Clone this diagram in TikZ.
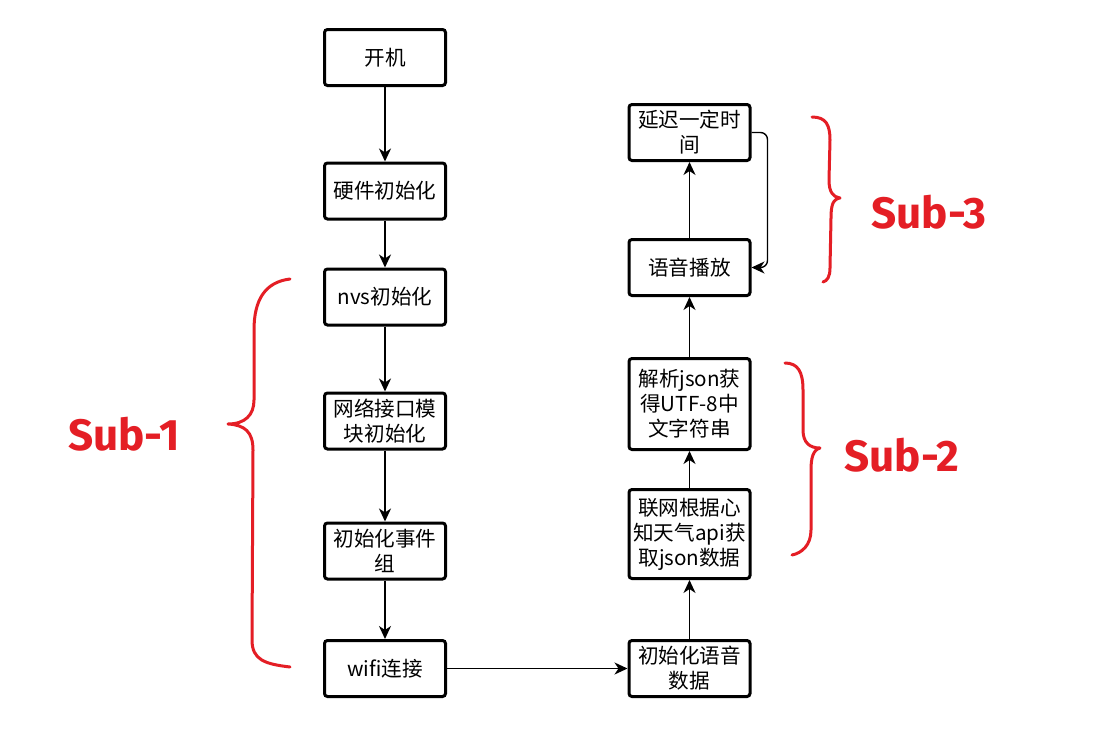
\documentclass[tikz,border=0pt]{standalone}
\usepackage{fontspec}
\setmainfont{Noto Sans CJK SC}
\newfontfamily\subfont{Fira Sans}
\usetikzlibrary{arrows.meta}
\definecolor{subred}{RGB}{228,30,37}
\begin{document}
\begin{tikzpicture}[x=1pt,y=-1pt,
  box/.style={draw, line width=3pt, rounded corners=3pt, minimum width=121pt, minimum height=56pt,
              align=center, font=\fontsize{20.6}{25}\selectfont, inner sep=2pt},
  flow/.style={line width=1.8pt, -{Stealth[length=13pt,width=12pt,inset=4pt]}},
  loopflow/.style={line width=1.4pt, rounded corners=7pt, -{Stealth[length=13pt,width=12pt,inset=4pt]}},
  brace/.style={draw=subred, line width=3pt, line cap=round, line join=round},
  sublabel/.style={text=subred, inner sep=0pt, font=\subfont\bfseries\fontsize{44}{44}\selectfont}]
\useasboundingbox[fill=white] (0,0) rectangle (1111,745);

% left column
\node[box] (kaiji)    at (385,57.5)  {开机};
\node[box] (yingjian) at (385,191)   {硬件初始化};
\node[box] (nvs)      at (385,297)   {nvs初始化};
\node[box] (wangluo)  at (385,421)   {网络接口模\\块初始化};
\node[box] (shijian)  at (385,551)   {初始化事件\\组};
\node[box] (wifi)     at (385,668.5) {wifi连接};

% right column
\node[box] (yuyin)    at (689.5,668.5) {初始化语音\\数据};
\node[box, minimum height=89pt] (lianwang) at (689.5,534) {联网根据心\\知天气api获\\取json数据};
\node[box, minimum height=91pt] (jiexi)    at (689.5,404) {解析json获\\得UTF-8中\\文字符串};
\node[box] (bofang)   at (689.5,267.5) {语音播放};
\node[box] (yanchi)   at (689.5,132.5) {延迟一定时\\间};

% connectors
\draw[flow] (kaiji) -- (yingjian);
\draw[flow] (yingjian) -- (nvs);
\draw[flow] (nvs) -- (wangluo);
\draw[flow] (wangluo) -- (shijian);
\draw[flow] (shijian) -- (wifi);
\draw[flow] (wifi) -- (yuyin);
\draw[flow] (yuyin) -- (lianwang);
\draw[flow] (lianwang) -- (jiexi);
\draw[flow] (jiexi) -- (bofang);
\draw[flow] (bofang) -- (yanchi);
\draw[loopflow] (yanchi.east) -| ([xshift=16pt]bofang.east) -- (bofang.east);

% braces
\draw[brace] (290,279) .. controls (265,282) and (254,300) .. (254,330) -- (254,400)
  .. controls (254,415) and (245,424) .. (228,424)
  .. controls (245,425) and (253,432) .. (253,450) -- (252,640)
  .. controls (252,660) and (265,664) .. (290,667);
\draw[brace] (812,117) .. controls (826,117) and (830,125) .. (830,140) -- (829,180)
  .. controls (829,192) and (833,197) .. (840,198)
  .. controls (833,199) and (831,205) .. (831,218) -- (830,268)
  .. controls (830,277) and (827,281) .. (823,282);
\draw[brace] (785,363) .. controls (798,363) and (803,372) .. (803,390) -- (803,430)
  .. controls (803,443) and (810,448) .. (820,448)
  .. controls (813,450) and (811,458) .. (811,470) -- (811,530)
  .. controls (811,545) and (802,553) .. (792,555);

% labels
\node[sublabel] (sub1) at (124,434) {Sub-1};
\node[sublabel] (sub3) at (929,212) {Sub-3};
\node[sublabel] (sub2) at (902,455) {Sub-2};
\end{tikzpicture}
\end{document}
